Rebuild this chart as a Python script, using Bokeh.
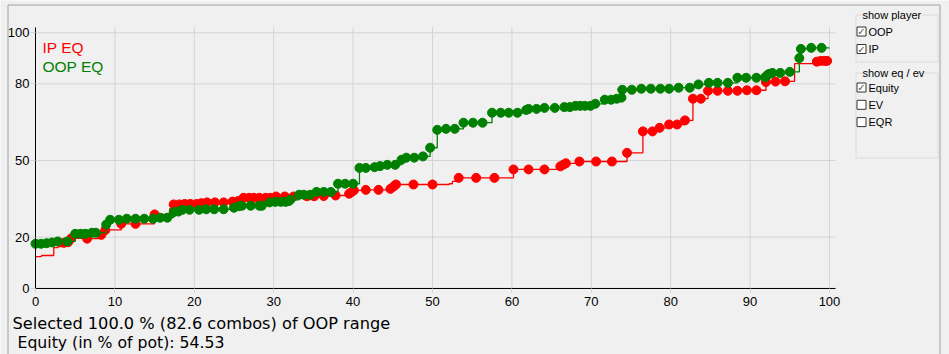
from bokeh.plotting import figure
from bokeh.models import Label, BoxAnnotation, Range1d, FixedTicker
from bokeh.embed import file_html
from bokeh.resources import INLINE

# ---------------- data ----------------
# IP equity (red): marked points
ip_x = [3.6, 4.1, 4.5, 6.5, 8.3, 8.8, 10.8, 12.6, 15.0, 17.4, 18.1, 18.8, 19.5, 20.3, 20.9,
        21.6, 22.6, 23.7, 24.8, 25.5, 26.2, 26.9, 27.5, 28.2, 29.0, 29.6, 30.3, 31.4, 32.5,
        34.2, 35.1, 36.3, 37.8, 39.5, 39.8, 40.1, 41.6, 43.2, 44.7, 45.1, 45.4, 47.6, 50.0,
        53.3, 55.5, 57.8, 60.2, 62.1, 64.1, 66.1, 66.5, 66.8, 68.5, 70.6, 72.6, 74.5, 76.5,
        77.7, 78.6, 79.8, 80.8, 81.8, 82.8, 83.8, 84.7, 85.9, 87.2, 88.4, 89.6, 90.8, 92.0,
        93.2, 94.4, 98.4, 98.9, 99.4, 99.7]
ip_y = [17.8, 18.0, 19.5, 19.4, 20.9, 22.8, 25.2, 25.2, 28.9, 32.8, 32.8, 33.0, 33.0, 33.0, 33.3,
        33.6, 33.6, 33.6, 33.9, 34.1, 35.4, 35.4, 35.4, 35.4, 35.4, 35.4, 35.9, 35.9, 35.9,
        36.0, 36.0, 36.1, 36.3, 37.0, 37.6, 38.3, 38.5, 38.5, 38.9, 39.8, 40.6, 40.6, 40.6,
        43.2, 43.2, 43.2, 46.5, 46.5, 46.5, 47.7, 48.4, 48.9, 49.6, 49.6, 49.6, 53.0, 61.4,
        61.4, 62.8, 64.1, 64.1, 65.7, 74.2, 74.2, 77.3, 77.3, 77.3, 77.3, 77.5, 77.5, 80.7,
        80.9, 81.0, 88.7, 89.0, 89.0, 89.0]
# IP equity: line-only vertices (no marker)
ip_line_x = [0.0, 0.75, 2.3, 2.85, 16.9, 52.1, 52.5, 95.6, 100.0]
ip_line_y = [12.4, 12.8, 15.9, 16.3, 31.1, 40.9, 41.8, 87.9, 89.0]

# OOP equity (green): marked points
oop_x = [0.0, 0.7, 1.4, 2.1, 2.8, 4.0, 5.0, 5.7, 6.3, 7.1, 7.6, 8.9, 9.4, 10.5, 11.5, 12.6,
         13.7, 14.8, 15.7, 16.6, 17.4, 18.0, 18.5, 19.4, 20.6, 21.5, 22.5, 23.7, 25.0, 25.6,
         26.0, 27.1, 28.2, 28.5, 29.5, 30.2, 30.9, 31.5, 31.9, 32.1, 33.2, 33.8, 34.6, 35.4,
         36.3, 37.2, 38.1, 39.0, 40.0, 40.8, 41.6, 42.7, 43.4, 44.3, 45.3, 46.1, 46.7, 47.7,
         48.8, 49.7, 50.6, 51.7, 52.8, 53.9, 55.1, 56.3, 57.5, 58.6, 59.6, 60.7, 61.8, 62.1,
         63.1, 64.1, 65.4, 66.6, 67.3, 68.0, 68.6, 69.2, 69.9, 70.5, 71.7, 72.5, 73.2, 73.8,
         73.9, 75.1, 76.3, 77.5, 78.7, 79.8, 81.0, 82.4, 83.5, 84.8, 85.9, 87.2, 88.4, 89.5,
         90.8, 91.9, 92.2, 92.4, 92.8, 93.8, 95.0, 96.2, 96.4, 97.7, 99.0]
oop_y = [17.4, 17.4, 17.6, 17.9, 18.3, 18.3, 21.3, 21.3, 21.3, 21.7, 21.7, 24.9, 26.8, 26.8, 27.2, 27.2,
         27.2, 27.2, 27.6, 27.6, 29.8, 30.0, 30.7, 30.7, 30.7, 30.9, 30.9, 30.9, 31.5, 32.1,
         32.3, 32.3, 32.3, 32.3, 33.6, 33.8, 33.8, 33.8, 34.1, 34.6, 36.6, 36.6, 36.6, 37.7,
         37.7, 37.7, 40.9, 40.9, 40.9, 47.1, 47.1, 47.4, 47.8, 48.3, 48.3, 50.3, 51.1, 51.1,
         51.6, 55.0, 62.0, 62.4, 62.4, 64.8, 64.8, 64.8, 68.7, 68.7, 68.7, 68.7, 69.8, 70.2,
         70.2, 70.6, 70.6, 70.9, 70.9, 71.4, 71.4, 71.4, 71.4, 72.2, 73.8, 73.8, 74.2, 74.6,
         77.7, 77.7, 78.1, 78.1, 78.1, 78.1, 78.5, 78.5, 79.8, 80.4, 80.4, 80.4, 82.4, 82.4,
         82.4, 82.6, 83.5, 83.9, 84.3, 84.3, 84.7, 90.1, 93.7, 94.1, 94.1]
oop_line_x = [100.0]
oop_line_y = [94.1]

x_ticks = [0, 10, 20, 30, 40, 50, 60, 70, 80, 90, 100]
y_ticks = [0, 20, 50, 80, 100]

series_names = ["IP EQ", "OOP EQ"]
series_colors = ["#FF0000", "#008000"]
info_lines = ["Selected 100.0 % (82.6 combos) of OOP range", " Equity (in % of pot): 54.53"]
player_boxes = [("OOP", True), ("IP", True)]
eq_boxes = [("Equity", True), ("EV", False), ("EQR", False)]

# ---------------- figure ----------------
W, H = 949, 354
# plot area in canvas pixels: x 0 -> 35, x 100 -> 829 ; y 0 -> 287.7, y 100 -> 32.3
PX0, PX_PER = 35.0, 7.94
PY0, PY_PER = 287.7, 2.554
X_END = 100.76     # axis line right end
Y_END = 102.2      # axis line top end

x_range = Range1d(-PX0 / PX_PER, (W - PX0) / PX_PER)
y_range = Range1d(-(H - PY0) / PY_PER, PY0 / PY_PER)

p = figure(width=W, height=H, x_range=x_range, y_range=y_range,
           output_backend="svg", toolbar_location=None,
           min_border=0, min_border_left=0, min_border_right=0, min_border_top=0, min_border_bottom=0,
           background_fill_color="#F0F0F0", border_fill_color="#F0F0F0", outline_line_color=None)
p.xgrid.visible = False
p.ygrid.visible = False

p.xaxis.ticker = FixedTicker(ticks=x_ticks)
p.yaxis.ticker = FixedTicker(ticks=y_ticks)
p.xaxis.fixed_location = 0
p.yaxis.fixed_location = 0
p.xaxis.bounds = (0, X_END)
p.yaxis.bounds = (0, Y_END)
for ax in (p.xaxis, p.yaxis):
    ax.axis_line_color = "#000000"
    ax.axis_line_width = 1
    ax.major_tick_line_color = "#D4D4D4"
    ax.major_tick_in = 0
    ax.minor_tick_line_color = None
    ax.major_label_text_font = "Liberation Sans"
    ax.major_label_text_font_size = "13px"
    ax.major_label_text_color = "#000000"
p.xaxis.major_tick_out = 4
p.xaxis.major_label_standoff = 5
p.yaxis.major_tick_out = 5
p.yaxis.major_label_standoff = 1

# grid lines (from the tick lists, bounded to the plot area)
p.segment(x0=x_ticks, y0=[0] * len(x_ticks), x1=x_ticks, y1=[Y_END] * len(x_ticks),
          line_color="#D4D4D4", line_width=1)
p.segment(x0=[0] * len(y_ticks), y0=y_ticks, x1=[X_END] * len(y_ticks), y1=y_ticks,
          line_color="#D4D4D4", line_width=1)


def merged(mx, my, lx, ly):
    pts = sorted(list(zip(mx, my)) + list(zip(lx, ly)), key=lambda t: t[0])
    return [t[0] for t in pts], [t[1] for t in pts]


ipl_x, ipl_y = merged(ip_x, ip_y, ip_line_x, ip_line_y)
oopl_x, oopl_y = merged(oop_x, oop_y, oop_line_x, oop_line_y)

p.step(ipl_x, ipl_y, mode="after", line_color=series_colors[0], line_width=1.3)
p.scatter(ip_x, ip_y, marker="circle", size=9, fill_color=series_colors[0], line_color=series_colors[0])
p.step(oopl_x, oopl_y, mode="after", line_color=series_colors[1], line_width=1.3)
p.scatter(oop_x, oop_y, marker="circle", size=9, fill_color=series_colors[1], line_color=series_colors[1])


# helpers: canvas pixel -> screen units (frame == whole canvas, y measured from bottom)
def sx(cx):
    return cx


def sy(cy):
    return H - cy


def label(text, cx, cy_center, size, color="#000000", font="Liberation Sans", bg=None, align="left"):
    # cy_center: vertical centre of the capital letters, in canvas pixels
    lab = Label(x=sx(cx), y=sy(cy_center), x_units="screen", y_units="screen", text=text,
                text_font=font, text_font_size=size, text_color=color,
                text_baseline="alphabetic", text_align=align)
    if bg is not None:
        lab.background_fill_color = bg
    p.add_layout(lab)


def box(l, t, r, b, line="#A0A0A0", fill=None):
    ba = BoxAnnotation(left=sx(l), right=sx(r), top=sy(t), bottom=sy(b),
                       left_units="screen", right_units="screen",
                       top_units="screen", bottom_units="screen",
                       line_color=line, line_width=1, line_alpha=1.0,
                       fill_color=fill if fill else "#FFFFFF", fill_alpha=1.0 if fill else 0.0)
    p.add_layout(ba)


# outer panel frame
box(7.5, 4.5, 939.5, 400, line="#A0A0A0")

# series name labels
label(series_names[0], 42, 46.5, "15.5px", color=series_colors[0])
label(series_names[1], 42, 65.5, "15.5px", color=series_colors[1])

# info lines below the chart (the second one is indented by one space in the original)
label(info_lines[0], 12, 322.8, "16.2px", font="DejaVu Sans")
label(info_lines[1].strip(), 17, 342.2, "15.7px", font="DejaVu Sans")

# right control panel
box(855.5, 14.5, 937.5, 61.5, line="#DCDCDC")
box(855.5, 72.5, 937.5, 157.5, line="#DCDCDC")
label("show player", 862, 14, "11px", bg="#F0F0F0")
label("show eq / ev", 862, 72, "11px", bg="#F0F0F0")


def checkbox(text, checked, cy):
    box(856.5, cy - 4.5, 865.5, cy + 4.5, line="#333333", fill="#FFFFFF")
    if checked:
        label("\u2713", 861, cy, "10px", color="#555555", font="DejaVu Sans", align="center")
    label(text, 868, cy, "11px")


for i, (t, c) in enumerate(player_boxes):
    checkbox(t, c, 31 + 17.5 * i)
for i, (t, c) in enumerate(eq_boxes):
    checkbox(t, c, 87 + 17.3 * i)

open("out.html", "w").write(file_html(p, INLINE))
